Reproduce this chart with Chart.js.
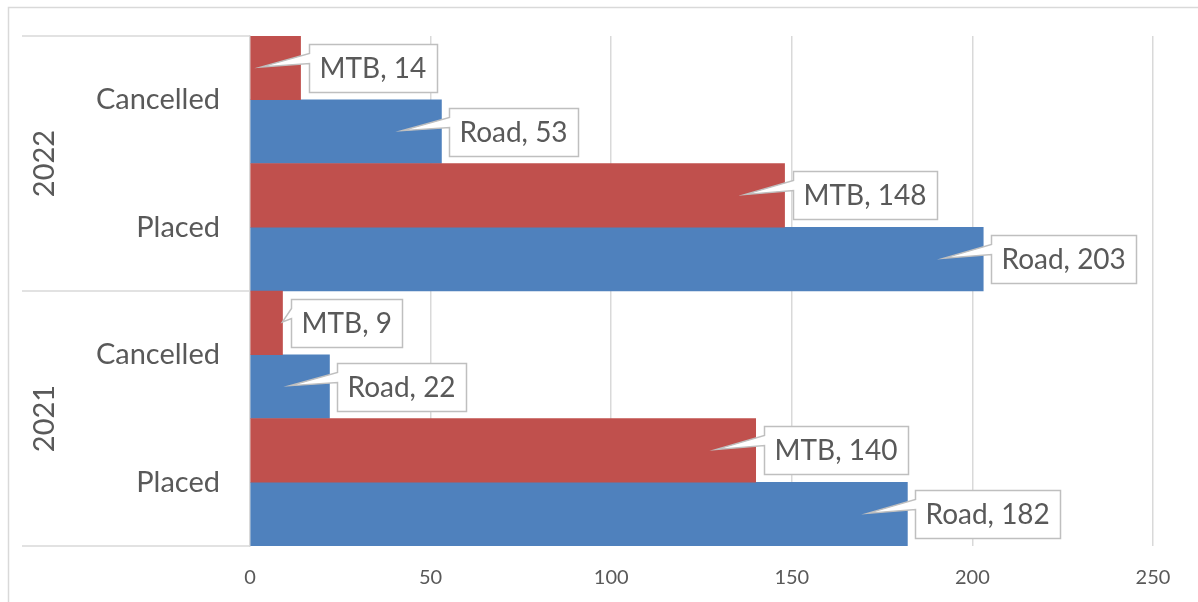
<!DOCTYPE html>
<html>
<head>
<meta charset="utf-8">
<script src="https://cdn.jsdelivr.net/npm/chart.js@4/dist/chart.umd.min.js"></script>
<style>
  html, body { margin: 0; padding: 0; background: #ffffff; }
  #wrap { width: 1198px; height: 602px; position: relative; }
</style>
</head>
<body>
<div id="wrap"><canvas id="c" width="1198" height="602"></canvas></div>
<script>
// ---- data (top-to-bottom order as shown) ----
const categories = ['Cancelled', 'Placed', 'Cancelled', 'Placed'];
const years      = ['2022', '2022', '2021', '2021'];
const seriesNames = ['MTB', 'Road'];
const mtbValues  = [14, 148, 9, 140];
const roadValues = [53, 203, 22, 182];
const xMin = 0, xMax = 250, xStep = 50;

const TEXT = '#595959';
const GRID = '#D9D9D9';
const FONT = 'Lato, "Open Sans", sans-serif';

const framePlugin = {
  id: 'frame',
  beforeDraw(chart) {
    const ctx = chart.ctx;
    ctx.save();
    ctx.fillStyle = '#ffffff';
    ctx.fillRect(0, 0, chart.width, chart.height);
    ctx.strokeStyle = GRID;
    ctx.lineWidth = 1.5;
    ctx.beginPath();
    ctx.moveTo(8.5, chart.height);
    ctx.lineTo(8.5, 7.5);
    ctx.lineTo(chart.width, 7.5);
    ctx.stroke();
    ctx.restore();
  }
};

const groupPlugin = {
  id: 'groups',
  afterDraw(chart) {
    const ctx = chart.ctx;
    const y = chart.scales.y;
    const area = chart.chartArea;
    const half = (y.getPixelForValue(1) - y.getPixelForValue(0)) / 2;
    // category labels (inner level)
    ctx.save();
    ctx.fillStyle = TEXT;
    ctx.font = '29px ' + FONT;
    ctx.textAlign = 'right';
    ctx.textBaseline = 'middle';
    categories.forEach((c, i) => {
      ctx.fillText(c, area.left - 30, y.getPixelForValue(i));
    });
    ctx.restore();
    // find groups of consecutive equal years
    const groups = [];
    years.forEach((yr, i) => {
      const last = groups[groups.length - 1];
      if (last && last.label === yr) last.end = i;
      else groups.push({ label: yr, start: i, end: i });
    });
    ctx.save();
    ctx.strokeStyle = GRID;
    ctx.lineWidth = 1.5;
    const boundaries = new Set();
    groups.forEach(g => {
      boundaries.add(y.getPixelForValue(g.start) - half);
      boundaries.add(y.getPixelForValue(g.end) + half);
    });
    boundaries.forEach(py => {
      ctx.beginPath();
      ctx.moveTo(22, py);
      ctx.lineTo(area.left, py);
      ctx.stroke();
    });
    ctx.fillStyle = TEXT;
    ctx.font = '29px ' + FONT;
    ctx.textAlign = 'center';
    ctx.textBaseline = 'middle';
    groups.forEach(g => {
      const cy = (y.getPixelForValue(g.start) + y.getPixelForValue(g.end)) / 2;
      ctx.save();
      ctx.translate(45, cy);
      ctx.rotate(-Math.PI / 2);
      ctx.fillText(g.label, 0, 0);
      ctx.restore();
    });
    ctx.restore();
  }
};

const calloutPlugin = {
  id: 'callouts',
  afterDatasetsDraw(chart) {
    const ctx = chart.ctx;
    ctx.save();
    ctx.font = '28px ' + FONT;
    chart.data.datasets.forEach((ds, di) => {
      const meta = chart.getDatasetMeta(di);
      meta.data.forEach((bar, i) => {
        const text = ds.label + ', ' + ds.data[i];
        const tw = ctx.measureText(text).width;
        const end = bar.x, cy = bar.y, base = bar.base;
        const bx = Math.round(end + 8) + 0.5;
        const bh = 48;
        const by = Math.round(cy - bh / 2) + 0.5;
        const bw = Math.round(tw + 21);
        const tipX = (end - 39 > base + 10) ? end - 39 : end;
        const tipY = cy - 1;
        ctx.beginPath();
        ctx.moveTo(bx, by);
        ctx.lineTo(bx + bw, by);
        ctx.lineTo(bx + bw, by + bh);
        ctx.lineTo(bx, by + bh);
        ctx.lineTo(bx, by + 19);
        ctx.lineTo(tipX, tipY);
        ctx.lineTo(bx, by + 9);
        ctx.closePath();
        ctx.fillStyle = '#ffffff';
        ctx.fill();
        ctx.strokeStyle = '#BFBFBF';
        ctx.lineWidth = 1.5;
        ctx.stroke();
        ctx.fillStyle = TEXT;
        ctx.textAlign = 'left';
        ctx.textBaseline = 'middle';
        ctx.fillText(text, bx + 10, cy + 1);
      });
    });
    ctx.restore();
  }
};

new Chart(document.getElementById('c'), {
  type: 'bar',
  data: {
    labels: categories,
    datasets: [
      { label: seriesNames[0], data: mtbValues, backgroundColor: '#C0504D', categoryPercentage: 1, barPercentage: 1, borderWidth: 0 },
      { label: seriesNames[1], data: roadValues, backgroundColor: '#4F81BD', categoryPercentage: 1, barPercentage: 1, borderWidth: 0 }
    ]
  },
  options: {
    indexAxis: 'y',
    responsive: false,
    animation: false,
    devicePixelRatio: 1,
    layout: { padding: { left: 10, right: 45, top: 36, bottom: 0 } },
    plugins: { legend: { display: false }, tooltip: { enabled: false } },
    scales: {
      x: {
        min: xMin, max: xMax,
        ticks: { stepSize: xStep, color: TEXT, font: { family: FONT, size: 20 }, padding: 20 },
        grid: { color: GRID, lineWidth: 1.5, drawTicks: false },
        border: { display: false },
        afterFit(scale) { scale.height = 56; }
      },
      y: {
        ticks: { display: false },
        grid: { display: false, drawTicks: false },
        border: { display: true, color: GRID, width: 1.5 },
        afterFit(scale) { scale.width = 240; }
      }
    }
  },
  plugins: [framePlugin, groupPlugin, calloutPlugin]
});
</script>
</body>
</html>
